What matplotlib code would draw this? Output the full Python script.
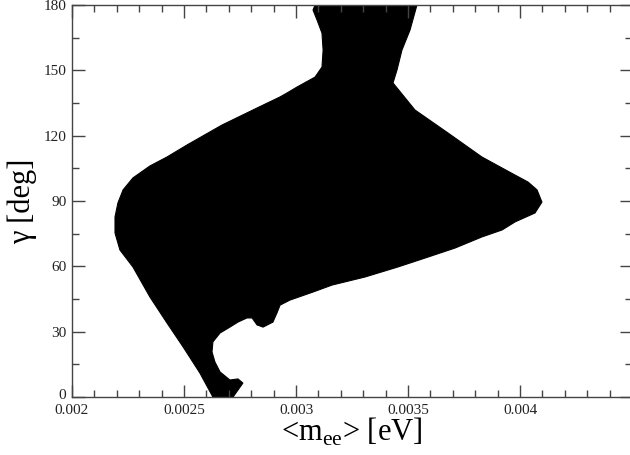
import matplotlib
matplotlib.use("Agg")
import matplotlib.pyplot as plt
from matplotlib.ticker import MultipleLocator
from matplotlib.transforms import ScaledTranslation

plt.rcParams['font.family'] = ['Liberation Serif', 'DejaVu Serif']
plt.rcParams['mathtext.fontset'] = 'custom'
plt.rcParams['mathtext.rm'] = 'Liberation Serif'

# Boundary of the allowed region (<m_ee> in eV, gamma in degrees), traced clockwise
region_mee = [0.003085, 0.003076, 0.003094, 0.003116, 0.003121, 0.003116, 0.003085,
              0.003004, 0.002960, 0.002929, 0.002826, 0.002808, 0.002670, 0.002513,
              0.002424, 0.002348, 0.002272, 0.002228, 0.002205, 0.002192, 0.002192,
              0.002214, 0.002272, 0.002348, 0.002424, 0.002496, 0.002571, 0.002629,
              0.002719, 0.002741, 0.002763, 0.002741, 0.002705, 0.002661, 0.002638,
              0.002625, 0.002629, 0.002661, 0.002705, 0.002741, 0.002781, 0.002804,
              0.002826, 0.002853, 0.002897, 0.002915, 0.002929, 0.002973, 0.003076,
              0.003161, 0.003308, 0.003455, 0.003576, 0.003710, 0.003830, 0.003920,
              0.003978, 0.004067, 0.004098, 0.004076, 0.004036, 0.003978, 0.003830,
              0.003679, 0.003531, 0.003433, 0.003451, 0.003473, 0.003509, 0.003540]
region_gamma = [180.0, 177.7, 173.1, 167.1, 159.3, 151.5, 146.9,
                142.3, 139.6, 137.8, 132.7, 131.8, 124.9, 115.7,
                110.2, 106.1, 100.6, 95.1, 89.1, 82.7, 75.3,
                67.5, 59.7, 45.9, 34.0, 23.0, 11.0, 0.0,
                0.0, 3.2, 6.4, 8.3, 7.8, 11.5, 16.1,
                20.7, 25.3, 29.4, 32.1, 34.4, 36.3, 36.3,
                33.1, 32.1, 34.4, 38.6, 42.2, 44.5, 48.2,
                51.4, 55.1, 59.7, 63.8, 68.4, 73.5, 76.7,
                80.4, 84.5, 89.5, 95.1, 98.7, 101.9, 110.2,
                121.2, 131.8, 144.2, 150.2, 159.3, 168.5, 180.0]

xticks = [0.002, 0.0025, 0.003, 0.0035, 0.004]
xtick_labels = ["0.002", "0.0025", "0.003", "0.0035", "0.004"]
yticks = [0, 30, 60, 90, 120, 150, 180]

fig = plt.figure(figsize=(6.3, 4.55), dpi=100)
ax = fig.add_axes([72/630, (455-397)/455, (632-72)/630, (397-5)/455])

ax.fill(region_mee, region_gamma, color='black', linewidth=0.8, edgecolor='black')

ax.set_xlim(0.002, 0.0045)
ax.set_ylim(0, 180)
ax.set_xticks(xticks)
ax.set_xticklabels(xtick_labels)
ax.set_yticks(yticks)
ax.xaxis.set_minor_locator(MultipleLocator(0.0001))
ax.yaxis.set_minor_locator(MultipleLocator(15))

spine_col = '#444444'
for s in ax.spines.values():
    s.set_color(spine_col)
    s.set_linewidth(1.0)
ax.tick_params(which='both', direction='in', top=True, right=True, color=spine_col,
               width=1.0, labelsize=11, labelcolor='#222222')
ax.tick_params(which='major', length=9)
ax.tick_params(axis='x', which='major', pad=5)
ax.tick_params(axis='y', which='major', pad=4)
ax.tick_params(which='minor', length=5)

# raise the "0" label slightly so it does not collide with "0.002"
fig.canvas.draw()
ylab0 = ax.get_yticklabels()[0]
ylab0.set_transform(ylab0.get_transform() + ScaledTranslation(0, 3/100, fig.dpi_scale_trans))

ax.set_xlabel(r'<m$_{\mathrm{ee}}$> [eV]', fontsize=22, labelpad=-1)
ax.set_ylabel('γ [deg]', fontsize=22, labelpad=5)

fig.savefig('out.png', dpi=100)
